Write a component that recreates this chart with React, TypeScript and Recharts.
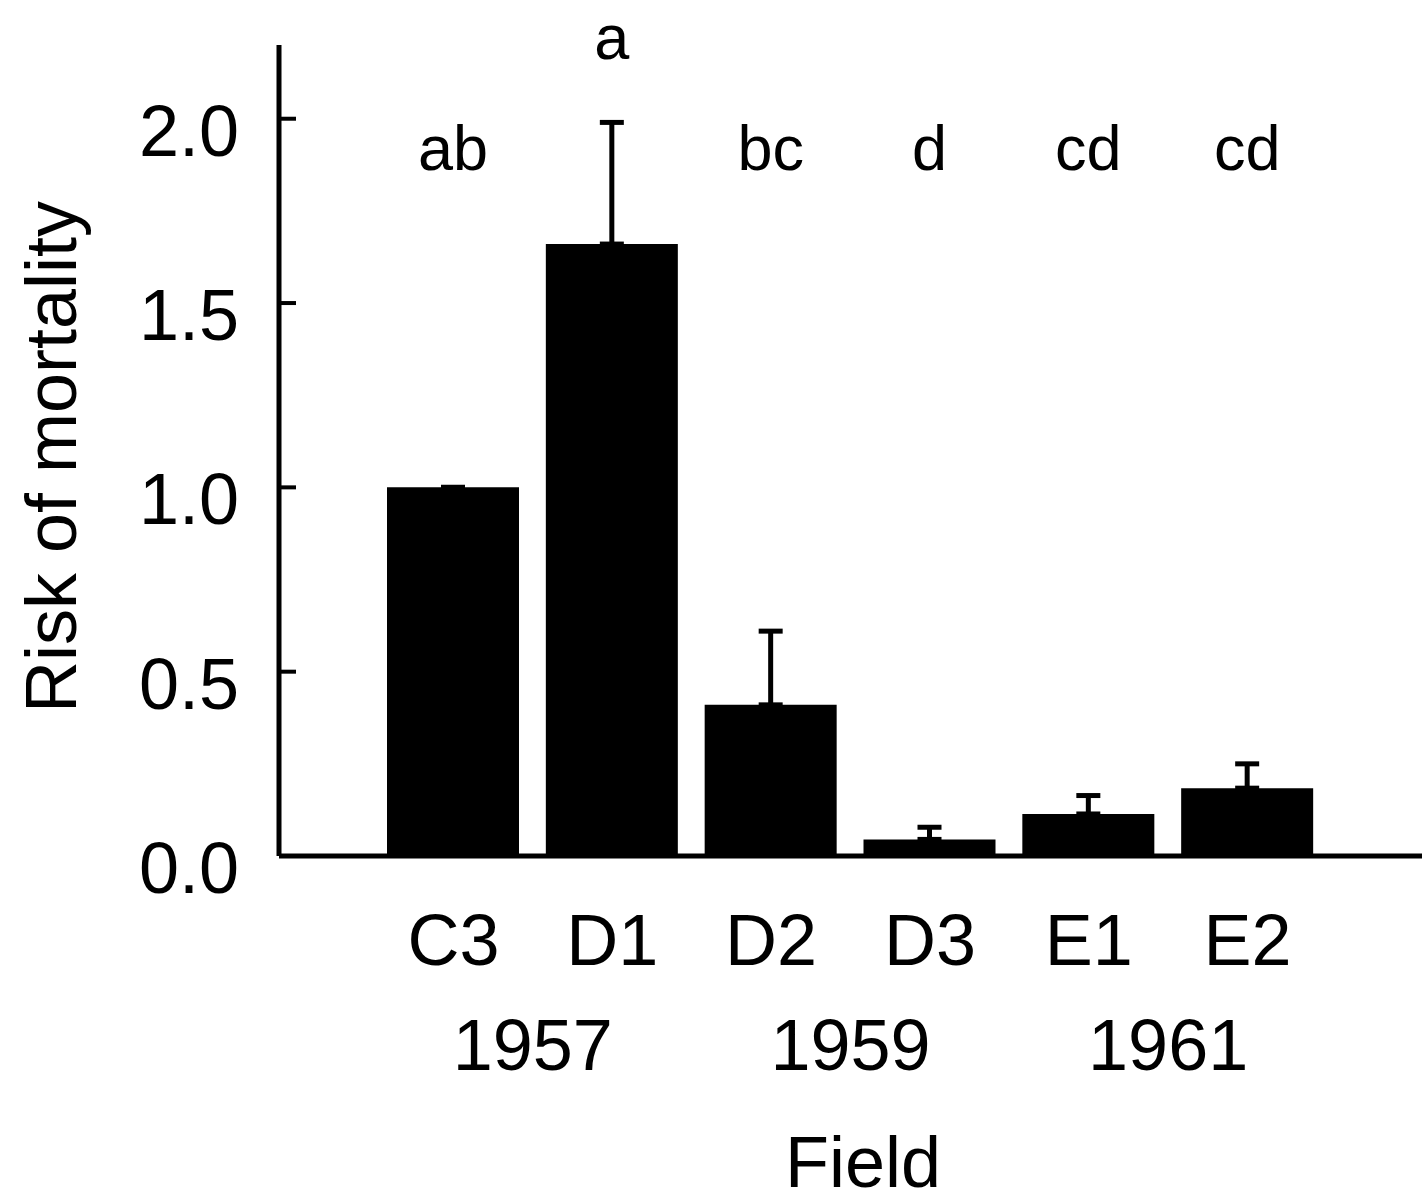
import { BarChart, Bar, XAxis, YAxis, ErrorBar, LabelList } from 'recharts'

const fields = ['C3', 'D1', 'D2', 'D3', 'E1', 'E2']
const years = ['1957', '1957', '1959', '1959', '1961', '1961']
const risk = [1.0, 1.66, 0.41, 0.045, 0.114, 0.184]
const riskErr = [0, 0.33, 0.2, 0.033, 0.05, 0.066]
const groupLetters = ['ab', 'a', 'bc', 'd', 'cd', 'cd']
const yTicks = [0, 0.5, 1.0, 1.5, 2.0]

const data = fields.map((f, i) => ({
    field: f,
    risk: risk[i],
    err: [0, riskErr[i]],
    letter: groupLetters[i]
}))

const FONT = '"Liberation Sans", Arial, Helvetica, sans-serif'

function FieldTick(props: any) {
    const x = Number(props.x), y = Number(props.y)
    const { payload } = props
    const i = payload.index ?? props.index
    const half = Number(payload.offset) || 79.4
    const newYear = i === 0 || years[i] !== years[i - 1]
    return (
        <g>
            <text x={x} y={y + 109} textAnchor="middle" fontSize={72} fontFamily={FONT} fill="#000">{payload.value}</text>
            {newYear && (
                <text x={x + half} y={y + 214} textAnchor="middle" fontSize={72} fontFamily={FONT} fill="#000">{years[i]}</text>
            )}
        </g>
    )
}

// inward tick marks, labels well to the left of the axis
function RiskTick(props: any) {
    const x = Number(props.x), y = Number(props.y)
    return (
        <g>
            <path d={`M${x},${y}H${x + 17}`} stroke="#000" strokeWidth={4} fill="none" />
            <text x={x - 40} y={y + 37} textAnchor="end" fontSize={72} fontFamily={FONT} fill="#000">{Number(props.payload.value).toFixed(1)}</text>
        </g>
    )
}

// significance letters: fixed row, lifted above the error bar when it reaches that high
function LetterLabel(props: any) {
    const x = Number(props.x), y = Number(props.y), width = Number(props.width), height = Number(props.height)
    const i = props.index
    const base = y + height
    const perUnit = height / risk[i]
    const errTop = base - (risk[i] + riskErr[i]) * perUnit
    const baseline = Math.min(170, errTop - 63)
    return (
        <text x={x + width / 2} y={baseline} textAnchor="middle" fontSize={63} fontFamily={FONT} fill="#000">{props.value}</text>
    )
}

function YTitle() {
    return (
        <text x={76} y={457} transform="rotate(-90 76 457)" textAnchor="middle" fontSize={72} fontFamily={FONT} fill="#000">Risk of mortality</text>
    )
}

function XTitle() {
    return (
        <text x={863} y={1187} textAnchor="middle" fontSize={72} fontFamily={FONT} fill="#000">Field</text>
    )
}

export default function App() {
    return (
        <div style={{ width: 1422, height: 1202, background: '#fff' }}>
            <style>{'body{margin:0}'}</style>
            <BarChart width={1422} height={1202} data={data} margin={{ top: 45, right: 0, bottom: 0, left: 0 }}>
                <XAxis
                    dataKey="field"
                    height={346}
                    padding={{ left: 95, right: 95 }}
                    tickLine={false}
                    tickSize={0}
                    tickMargin={0}
                    axisLine={{ stroke: '#000', strokeWidth: 5 }}
                    tick={<FieldTick />}
                    interval={0}
                    label={<XTitle />}
                />
                <YAxis
                    width={279}
                    domain={[0, 2.2]}
                    ticks={yTicks}
                    tickLine={false}
                    tickSize={0}
                    tickMargin={0}
                    axisLine={{ stroke: '#000', strokeWidth: 5 }}
                    tick={<RiskTick />}
                    label={<YTitle />}
                />
                <Bar dataKey="risk" fill="#000" barSize={132} isAnimationActive={false}>
                    <ErrorBar dataKey="err" width={12} stroke="#000" strokeWidth={5} direction="y" />
                    <LabelList dataKey="letter" content={<LetterLabel />} />
                </Bar>
            </BarChart>
        </div>
    )
}
